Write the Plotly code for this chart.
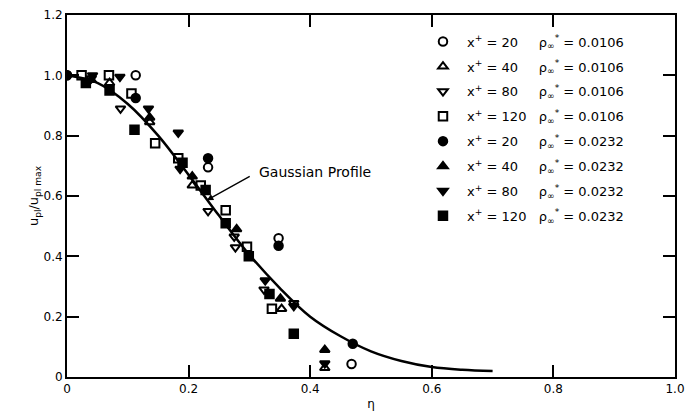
import plotly.graph_objects as go

# ---- data ----
oc_x = [0.0, 0.113, 0.232, 0.348, 0.468]
oc_y = [1.0, 1.0, 0.695, 0.46, 0.043]

ot_x = [0.07, 0.136, 0.206, 0.353, 0.424]
ot_y = [0.975, 0.845, 0.635, 0.226, 0.03]

odt_x = [0.04, 0.088, 0.232, 0.275, 0.277, 0.324, 0.373]
odt_y = [0.99, 0.89, 0.55, 0.465, 0.43, 0.29, 0.245]

os_x = [0.024, 0.069, 0.106, 0.145, 0.183, 0.22, 0.261, 0.296, 0.337]
os_y = [1.0, 1.0, 0.94, 0.775, 0.725, 0.635, 0.553, 0.432, 0.226]

fc_x = [0.0, 0.113, 0.232, 0.348, 0.47]
fc_y = [1.0, 0.925, 0.725, 0.435, 0.11]

ft_x = [0.04, 0.136, 0.206, 0.279, 0.351, 0.424]
ft_y = [0.985, 0.86, 0.665, 0.49, 0.26, 0.09]

fdt_x = [0.042, 0.087, 0.134, 0.183, 0.186, 0.326, 0.373, 0.424]
fdt_y = [1.0, 0.995, 0.89, 0.81, 0.69, 0.32, 0.235, 0.045]

fs_x = [0.031, 0.07, 0.111, 0.19, 0.228, 0.261, 0.299, 0.333, 0.373]
fs_y = [0.975, 0.95, 0.82, 0.71, 0.62, 0.51, 0.40, 0.275, 0.143]

curve_eta = [0, 0.05, 0.1, 0.15, 0.2, 0.25, 0.3, 0.35, 0.4, 0.45, 0.5, 0.55, 0.6, 0.65, 0.7]
curve_u = [1.0, 0.975, 0.905, 0.80, 0.67, 0.535, 0.405, 0.295, 0.20, 0.135, 0.085, 0.053, 0.033, 0.024, 0.02]

x_ticks = [0, 0.2, 0.4, 0.6, 0.8, 1.0]
x_ticktext = ["0", "0.2", "0.4", "0.6", "0.8", "1.0"]
y_ticks = [0, 0.2, 0.4, 0.6, 0.8, 1.0, 1.2]
y_ticktext = ["0", "0.2", "0.4", "0.6", "0.8", "1.0", "1.2"]

NB = "\u00a0"
rho = "ρ<sub>∞</sub><sup>*</sup>"
series = [
    ("circle-open", oc_x, oc_y, "20" + NB * 2, "0.0106"),
    ("triangle-up-open", ot_x, ot_y, "40" + NB * 2, "0.0106"),
    ("triangle-down-open", odt_x, odt_y, "80" + NB * 2, "0.0106"),
    ("square-open", os_x, os_y, "120", "0.0106"),
    ("circle", fc_x, fc_y, "20" + NB * 2, "0.0232"),
    ("triangle-up", ft_x, ft_y, "40" + NB * 2, "0.0232"),
    ("triangle-down", fdt_x, fdt_y, "80" + NB * 2, "0.0232"),
    ("square", fs_x, fs_y, "120", "0.0232"),
]

FONT = "DejaVu Sans"
fig = go.Figure()

fig.add_trace(go.Scatter(x=curve_eta, y=curve_u, mode="lines",
                         line=dict(color="black", width=2.5, shape="spline"),
                         showlegend=False, hoverinfo="skip"))

for i, (sym, xs, ys, xp, rv) in enumerate(series):
    fig.add_trace(go.Scatter(
        x=xs, y=ys, mode="markers", legendgroup=f"g{i}",
        marker=dict(symbol=sym, size=8.5, color="black", line=dict(color="black", width=2)),
        name=f"{NB}x<sup>+</sup> = {xp}{NB*3}{rho} = {rv}",
    ))

fig.add_annotation(x=0.312, y=0.678, xref="x", yref="y", text="Gaussian Profile",
                   showarrow=False, xanchor="left", yanchor="middle",
                   font=dict(family=FONT, size=14, color="black"))
fig.add_annotation(x=0.23, y=0.586, ax=0.303, ay=0.668, axref="x", ayref="y",
                   xref="x", yref="y", text="", showarrow=True,
                   arrowhead=2, arrowsize=1, arrowwidth=1.3, arrowcolor="black")

axis_common = dict(showline=True, linecolor="black", linewidth=2, mirror="ticks",
                   ticks="inside", ticklen=12, tickwidth=1.5, tickcolor="black",
                   showgrid=False, zeroline=False, automargin=False,
                   tickfont=dict(family=FONT, size=12, color="black"))

fig.update_xaxes(range=[0, 1.0], tickvals=x_ticks, ticktext=x_ticktext,
                 ticklabeloverflow="allow",
                 title=dict(text="η", font=dict(family=FONT, size=12, color="black"), standoff=4),
                 **axis_common)
fig.update_yaxes(range=[0, 1.2], tickvals=y_ticks, ticktext=y_ticktext,
                 title=dict(text="u<sub>pl</sub>/u<sub>pl max</sub>",
                            font=dict(family=FONT, size=13, color="black"), standoff=2),
                 **axis_common)

fig.update_layout(
    width=686, height=419,
    margin=dict(l=67, r=11, t=15, b=42, autoexpand=False),
    plot_bgcolor="white", paper_bgcolor="white",
    font=dict(family=FONT, size=12, color="black"),
    legend=dict(x=0.5855, y=0.968, xanchor="left", yanchor="top",
                bgcolor="rgba(0,0,0,0)", borderwidth=0,
                font=dict(family=FONT, size=13, color="black"),
                tracegroupgap=5, itemsizing="trace"),
)

fig.write_html("out.html", config={"displayModeBar": False},
               post_script="document.body.style.margin='0';document.body.style.overflow='hidden';")
